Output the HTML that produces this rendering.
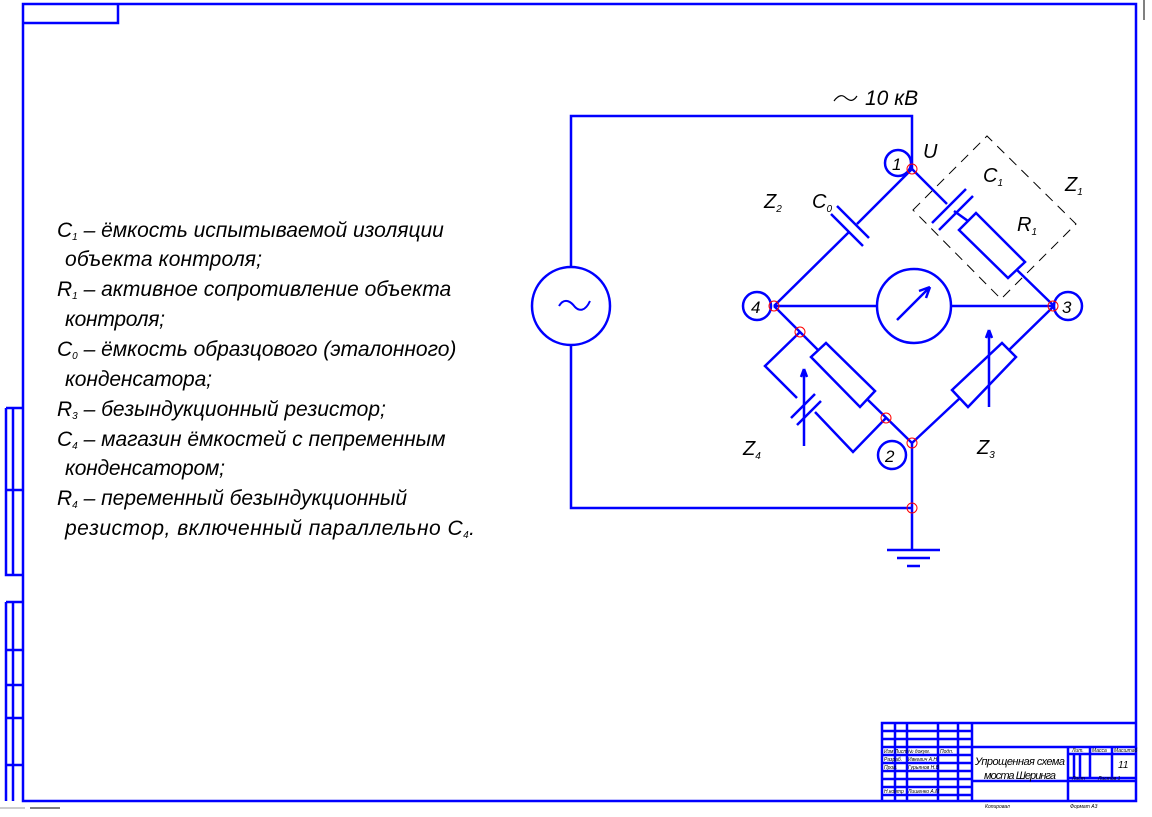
<!DOCTYPE html>
<html><head><meta charset="utf-8"><style>
html,body{margin:0;padding:0;background:#fff;}
svg{display:block;}
text{font-family:"Liberation Sans",sans-serif;font-style:italic;fill:#000;}
</style></head><body>
<svg width="1152" height="817" viewBox="0 0 1152 817" xmlns="http://www.w3.org/2000/svg">
<g stroke="#0000ff" fill="none" stroke-width="2.5">
<!-- frame -->
<path d="M23 4 H1136 V801 H23 Z"/>
<path d="M23 23 H118 V4"/>
<!-- left strip -->
<path d="M6 408 V575 H22 M6 408 H22 M13 408 V575 M6 490 H22"/>
<path d="M6 602 V801 M6 602 H22 M13 602 V801 M6 650 H22 M6 685 H22 M6 718 H22 M6 765 H22"/>
<!-- title block -->
<path d="M882 801 V723 H1136 M972 723 V801 M1068 747 V801 M972 747 H1136 M972 781 H1136 M1068 778 H1136 M1090 747 V778 M1112 747 V778 M1074 754 V778 M1080 754 V778 M1068 754 H1136"/>
<path d="M895 723 V801 M907 723 V801 M938 723 V801 M958 723 V801"/>
<path d="M882 731 H972 M882 739 H972 M882 747 H972 M882 755 H972 M882 763 H972 M882 771 H972 M882 779 H972 M882 787 H972 M882 795 H972"/>
</g>
<g stroke="#0000ff" fill="none" stroke-width="2.5">
<!-- supply loop -->
<path d="M571 267 V116 H912 V169"/>
<path d="M571 345 V508 H912"/>
<circle cx="571" cy="306" r="39"/>
<path d="M559 306 C565 296 572 303 575 307 C579 311 585 312 590 301" stroke-width="2"/>
<!-- ground -->
<path d="M912 443 V550 M887 550 H940 M897 558 H930 M907 566 H920"/>
<!-- node1 - node4 with C0 -->
<path d="M912 169 L857 224 M849 232 L774 306"/>
<path d="M837 206 L869 238 M831 214 L863 246"/>
<!-- node1 - node3 with C1 and R1 -->
<path d="M912 169 L947 204 M954 211 L968 221"/>
<path d="M932 223 L966 189 M939 230 L973 196"/>
<path d="M959 230 L976 213 L1025 262 L1008 278 Z"/>
<path d="M1017 270 L1054 306"/>
<!-- Z1 dashed box -->
<path d="M913 210 L987 136 L1076 224 L1001 299 Z" stroke="#000" stroke-width="1" stroke-dasharray="10,7"/>
<!-- galvanometer -->
<path d="M774 306 H877 M951 306 H1054"/>
<circle cx="914" cy="306" r="37"/>
<path d="M897 320 L930 287 M930 287 L919 291 M930 287 L926 298"/>
<!-- Z4 -->
<path d="M774 306 L800 332 L818 350"/>
<path d="M811 357 L826 343 L875 391 L860 407 Z"/>
<path d="M867 399 L912 443"/>
<path d="M800 332 L765 366 L797 398 M815 412 L853 452 L886 418"/>
<path d="M791 418 L815 394 M797 425 L821 401"/>
<path d="M804 446 V369 M804 369 L801 377 M804 369 L807 377"/>
<!-- Z3 -->
<path d="M912 443 L960 398 M1009 350 L1054 306"/>
<path d="M952 390 L1002 343 L1016 357 L968 407 Z"/>
<path d="M989 407 V330 M989 330 L986 338 M989 330 L992 338"/>
<!-- node label circles -->
<circle cx="898" cy="163" r="13"/>
<circle cx="757" cy="306" r="14"/>
<circle cx="1068" cy="306" r="14"/>
<circle cx="892" cy="455" r="14"/>
</g>
<g stroke="#ff0000" fill="none" stroke-width="1">
<circle cx="912" cy="169" r="5"/><circle cx="774" cy="306" r="5"/><circle cx="1053" cy="306" r="5"/>
<circle cx="912" cy="443" r="5"/><circle cx="912" cy="508" r="5"/><circle cx="800" cy="332" r="5"/><circle cx="886" cy="418" r="5"/>
</g>
<path d="M834 101 C839 94 843 95 846 98 C850 101 853 102 857 96" stroke="#000" stroke-width="1.2" fill="none"/>
<!-- labels -->
<g font-size="20">
<text x="865" y="105" font-size="21">10 кВ</text>
<text x="923" y="158">U</text>
<text x="892" y="170" font-size="17">1</text>
<text x="751" y="313" font-size="17">4</text>
<text x="1062" y="313" font-size="17">3</text>
<text x="885" y="462" font-size="17">2</text>
<text x="983" y="182">C<tspan font-size="10" dy="4">1</tspan></text>
<text x="1065" y="191">Z<tspan font-size="10" dy="4">1</tspan></text>
<text x="1017" y="231">R<tspan font-size="10" dy="4">1</tspan></text>
<text x="764" y="208">Z<tspan font-size="10" dy="4">2</tspan></text>
<text x="812" y="208">C<tspan font-size="10" dy="4">0</tspan></text>
<text x="743" y="455">Z<tspan font-size="10" dy="4">4</tspan></text>
<text x="977" y="454">Z<tspan font-size="10" dy="4">3</tspan></text>
</g>
<g font-size="21">
<text x="57" y="237">C<tspan font-size="10" dy="3">1</tspan><tspan dy="-3"> – ёмкость испытываемой изоляции</tspan></text>
<text x="65" y="266" textLength="197">объекта контроля;</text>
<text x="57" y="296">R<tspan font-size="10" dy="3">1</tspan><tspan dy="-3"> – активное сопротивление объекта</tspan></text>
<text x="65" y="326" textLength="100">контроля;</text>
<text x="57" y="356">C<tspan font-size="10" dy="3">0</tspan><tspan dy="-3"> – ёмкость образцового (эталонного)</tspan></text>
<text x="65" y="386" textLength="147">конденсатора;</text>
<text x="57" y="416">R<tspan font-size="10" dy="3">3</tspan><tspan dy="-3"> – безындукционный резистор;</tspan></text>
<text x="57" y="446">C<tspan font-size="10" dy="3">4</tspan><tspan dy="-3"> – магазин ёмкостей с пепременным</tspan></text>
<text x="65" y="475" textLength="160">конденсатором;</text>
<text x="57" y="505">R<tspan font-size="10" dy="3">4</tspan><tspan dy="-3"> – переменный безындукционный</tspan></text>
<text x="65" y="535" textLength="410">резистор, включенный параллельно C<tspan font-size="10" dy="3">4</tspan><tspan dy="-3">.</tspan></text>
</g>
<g font-size="11">
<text x="975" y="765" textLength="90">Упрощенная схема</text>
<text x="984" y="779" textLength="72">моста Шеринга</text>
<text x="1118" y="768" font-size="10">11</text>
</g>
<g font-size="5">
<text x="884" y="753">Изм Лист</text><text x="908" y="753">№ докум.</text><text x="940" y="753">Подп.</text>
<text x="884" y="761">Разраб.</text><text x="908" y="761">Ивкевич А.Н</text>
<text x="884" y="769">Пров.</text><text x="908" y="769">Гурьянов Н.В</text>
<text x="884" y="793">Н.контр</text><text x="908" y="793">Лишенко А.М</text>
<text x="1072" y="752">Лит.</text><text x="1092" y="752">Масса</text><text x="1114" y="752">Масштаб</text>
<text x="1072" y="780">Лист</text><text x="1098" y="780">Листов 1</text>
<text x="985" y="808">Копировал</text><text x="1070" y="808">Формат А3</text>
</g>
<line x1="1144" y1="0" x2="1144" y2="20" stroke="#000" stroke-width="1"/>
<line x1="0" y1="808" x2="25" y2="808" stroke="#999" stroke-width="1"/>
<line x1="30" y1="808" x2="60" y2="808" stroke="#000" stroke-width="1"/>
</svg>
</body></html>
